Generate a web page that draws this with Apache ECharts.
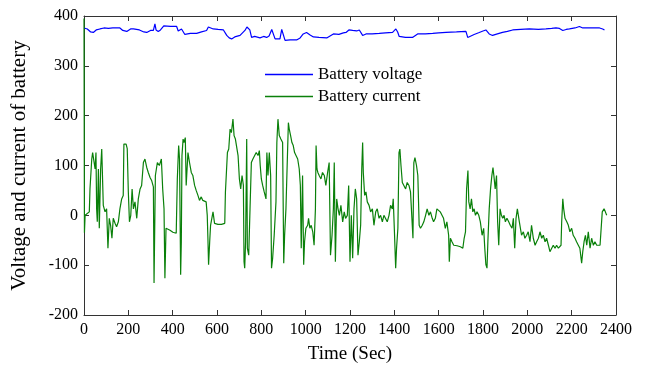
<!DOCTYPE html>
<html>
<head>
<meta charset="utf-8">
<script src="https://cdn.jsdelivr.net/npm/echarts@6/dist/echarts.min.js"></script>
<style>
  html, body { margin: 0; padding: 0; background: #fff; }
  #chart { width: 648px; height: 369px; }
</style>
</head>
<body>
<div id="chart"></div>
<script>
// x axis ticks (Sec) and y axis ticks
const timeTicks = [0, 200, 400, 600, 800, 1000, 1200, 1400, 1600, 1800, 2000, 2200, 2400]
const valueTicks = [-200, -100, 0, 100, 200, 300, 400]

// battery voltage samples [time, volts]
const voltageSamples = [
  [0, 376], [15, 374], [30, 368], [42, 367], [55, 372], [72, 374], [90, 376], [110, 375],
  [130, 376], [162, 376], [175, 371], [193, 369], [210, 374], [223, 374], [250, 372],
  [270, 368], [283, 367], [300, 371], [313, 371], [320, 384], [325, 372], [335, 369],
  [345, 372], [360, 380], [365, 381], [390, 379], [418, 379], [425, 370], [433, 367],
  [440, 374], [448, 374], [455, 363], [480, 365], [508, 365], [530, 368], [553, 371],
  [561, 378], [570, 375], [583, 374], [605, 373], [629, 372], [644, 361], [655, 356],
  [666, 354], [680, 358], [704, 361], [715, 366], [726, 371], [735, 378], [741, 375],
  [748, 372], [756, 357], [770, 359], [794, 356], [810, 359], [824, 357], [835, 360],
  [847, 373], [855, 370], [862, 354], [884, 354], [892, 373], [900, 370], [907, 351],
  [930, 352], [959, 352], [975, 356], [989, 364], [1004, 367], [1020, 362], [1035, 358],
  [1060, 357], [1095, 356], [1110, 360], [1125, 364], [1150, 363], [1170, 366],
  [1182, 367], [1195, 372], [1212, 371], [1230, 370], [1242, 372], [1257, 361],
  [1272, 364], [1300, 364], [1332, 365], [1360, 366], [1392, 367], [1407, 374],
  [1415, 368], [1422, 359], [1450, 357], [1482, 357], [1490, 354], [1505, 364],
  [1540, 364], [1573, 365], [1600, 366], [1633, 367], [1680, 368], [1723, 369],
  [1731, 357], [1760, 363], [1783, 367], [1800, 370], [1813, 372], [1828, 364],
  [1843, 361], [1865, 364], [1888, 367], [1910, 369], [1934, 372], [1970, 373],
  [2009, 374], [2050, 373], [2084, 374], [2110, 375], [2129, 376], [2145, 375],
  [2160, 371], [2175, 373], [2190, 374], [2215, 376], [2235, 379], [2250, 376],
  [2265, 376], [2300, 376], [2326, 376], [2340, 374], [2348, 372]
]

// battery current samples [time, amps]
const currentSamples = [
  [0, 395], [2, -35], [5, 0], [12, 3], [24, 7], [27, 53], [35, 113], [39, 126], [45, 130],
  [50, 93], [54, 126], [57, 13], [60, -13], [65, 93], [69, -26], [75, 93], [80, 133],
  [84, 134], [87, 20], [95, 7], [102, 13], [108, -66], [114, -6], [120, -20], [126, -46],
  [132, -6], [140, -16], [147, -23], [155, -13], [162, 13], [170, 33], [177, 40],
  [180, 143], [190, 143], [195, 134], [200, 47], [205, -13], [211, 0], [217, 53],
  [223, 13], [230, 27], [238, -6], [245, 33], [253, 53], [260, 60], [268, 106],
  [275, 113], [283, 96], [290, 86], [298, 76], [305, 70], [313, 57], [316, -136],
  [322, 80], [331, 106], [340, 100], [349, 113], [355, 53], [361, 13], [365, -126],
  [370, -26], [376, -23], [388, -30], [401, -34], [416, -36], [421, 73], [427, 140],
  [431, 113], [436, -119], [439, -53], [442, 120], [447, 153], [451, 146], [457, 156],
  [461, 60], [469, 126], [476, 106], [484, 86], [491, 80], [499, 60], [506, 50],
  [514, 40], [521, 30], [529, 37], [536, 30], [544, 33], [551, 27], [556, 0],
  [559, -46], [562, -99], [567, -53], [571, -20], [577, -20], [582, 7], [589, -16],
  [604, -18], [620, -18], [635, -16], [638, 47], [647, 126], [653, 133], [659, 173],
  [665, 166], [672, 193], [677, 160], [683, 153], [689, 150], [695, 120], [701, 73],
  [707, 53], [713, 80], [719, 60], [722, -93], [725, -106], [729, -53], [734, 153],
  [737, -66], [743, -80], [749, 13], [755, 106], [762, 113], [770, 120], [777, 126],
  [785, 120], [791, 130], [795, 100], [800, 73], [806, 60], [813, 47], [821, 33],
  [825, 126], [830, 80], [836, 126], [842, 80], [846, -106], [851, -86], [858, -40],
  [866, 27], [870, 146], [875, 193], [881, 160], [888, 153], [896, 146], [901, -96],
  [905, -40], [911, 13], [917, 13], [922, 186], [926, 173], [932, 160], [938, 146],
  [944, 140], [950, 126], [956, 130], [964, 113], [971, 93], [976, 60], [980, -66],
  [986, 80], [991, -99], [995, -53], [1001, -26], [1009, -20], [1013, -6], [1019, -26],
  [1025, -20], [1032, -33], [1038, -60], [1044, 13], [1047, 140], [1051, 93],
  [1055, 86], [1061, 80], [1069, 73], [1076, 86], [1084, 80], [1091, 60], [1099, 86],
  [1106, 106], [1112, -80], [1119, -40], [1125, 13], [1129, 106], [1134, -93],
  [1140, 33], [1146, 13], [1152, 0], [1159, 20], [1167, -13], [1174, 7], [1180, -6],
  [1188, 0], [1194, 60], [1200, -93], [1206, 0], [1212, -86], [1218, 13], [1224, 53],
  [1230, 33], [1236, -80], [1242, -53], [1248, -20], [1253, 93], [1257, 146],
  [1260, 86], [1266, 40], [1272, 47], [1278, 27], [1286, 20], [1293, 7], [1301, 13],
  [1308, -20], [1316, 7], [1323, 13], [1331, -6], [1338, 0], [1346, -13], [1353, 0],
  [1361, 0], [1368, -13], [1376, 0], [1383, 20], [1391, 13], [1395, 33], [1401, -40],
  [1406, -106], [1410, -66], [1416, -26], [1421, 126], [1425, 133], [1430, 100],
  [1436, 66], [1443, 66], [1451, 53], [1458, 66], [1466, 60], [1473, 47], [1479, 47],
  [1484, -46], [1488, 106], [1493, 116], [1500, 100], [1506, 80], [1512, -20],
  [1518, -26], [1526, -20], [1533, -13], [1541, 0], [1548, 13], [1556, 0], [1563, 7],
  [1571, -6], [1577, -13], [1585, -6], [1592, 13], [1600, 17], [1607, 7], [1615, 0],
  [1622, -6], [1630, -26], [1637, -13], [1645, -40], [1648, -93], [1653, -46],
  [1660, -53], [1668, -60], [1683, -61], [1698, -63], [1709, -66], [1715, -46],
  [1721, -33], [1726, 53], [1732, 90], [1736, 27], [1742, 13], [1748, 33], [1754, 7],
  [1760, 13], [1766, 0], [1773, 7], [1781, 0], [1788, -13], [1796, -40], [1803, -26],
  [1808, -66], [1813, -99], [1818, -106], [1822, -53], [1828, 13], [1834, 53],
  [1840, 80], [1845, 96], [1849, 80], [1855, 53], [1861, 80], [1866, -13], [1871, -60],
  [1877, 13], [1883, 0], [1889, -6], [1895, 0], [1901, -13], [1908, -6], [1916, -13],
  [1923, -20], [1931, -26], [1937, -6], [1943, -66], [1949, -6], [1955, 13],
  [1964, -13], [1974, -40], [1982, -33], [1989, -46], [1997, -40], [2004, -33],
  [2012, -53], [2019, -20], [2027, -46], [2035, -60], [2042, -53], [2050, -46],
  [2057, -33], [2065, -46], [2072, -40], [2080, -53], [2087, -46], [2095, -60],
  [2102, -73], [2110, -66], [2117, -60], [2125, -66], [2132, -60], [2140, -66],
  [2147, -63], [2152, -60], [2155, -13], [2160, 33], [2164, 13], [2170, -6],
  [2178, -13], [2185, -20], [2192, -33], [2200, -26], [2207, -40], [2215, -46],
  [2222, -53], [2230, -60], [2237, -66], [2245, -96], [2250, -73], [2256, -53],
  [2262, -40], [2268, -60], [2275, -33], [2283, -66], [2290, -46], [2298, -60],
  [2305, -53], [2313, -60], [2320, -56], [2328, -60], [2335, -60], [2338, 7],
  [2346, 13], [2352, 7], [2358, 0]
]

const chart = echarts.init(document.getElementById('chart'))

const font = 'Liberation Serif'
const axisColor = '#333'

function boxAxis(extra) {
  return Object.assign({
    type: 'value',
    axisLine: { show: true, onZero: false, lineStyle: { color: axisColor, width: 1 } },
    axisTick: { show: true, inside: true, length: 5, lineStyle: { color: axisColor } },
    splitLine: { show: false }
  }, extra)
}

const option = {
  animation: false,
  backgroundColor: '#fff',
  grid: { left: 84, right: 32, top: 16, bottom: 52 },
  legend: {
    orient: 'vertical',
    left: 260,
    top: 61,
    icon: 'rect',
    itemWidth: 48,
    itemHeight: 1.5,
    itemGap: 5,
    textStyle: { fontFamily: font, fontSize: 17, color: '#000' },
    data: ['Battery voltage', 'Battery current']
  },
  xAxis: [
    boxAxis({
      min: timeTicks[0],
      max: timeTicks[timeTicks.length - 1],
      interval: 200,
      name: 'Time (Sec)',
      nameLocation: 'middle',
      nameGap: 30,
      nameTextStyle: { fontFamily: font, fontSize: 19, color: '#000' },
      axisLabel: { fontFamily: font, fontSize: 16, color: '#000', margin: 7, formatter: v => String(v) }
    }),
    boxAxis({
      position: 'top',
      min: timeTicks[0],
      max: timeTicks[timeTicks.length - 1],
      interval: 200,
      axisLabel: { show: false }
    })
  ],
  yAxis: [
    boxAxis({
      min: valueTicks[0],
      max: valueTicks[valueTicks.length - 1],
      interval: 100,
      name: 'Voltage and current of battery',
      nameLocation: 'middle',
      nameGap: 54,
      nameTextStyle: { fontFamily: font, fontSize: 21, color: '#000' },
      axisLabel: { fontFamily: font, fontSize: 16, color: '#000', margin: 6 }
    }),
    boxAxis({
      position: 'right',
      min: valueTicks[0],
      max: valueTicks[valueTicks.length - 1],
      interval: 100,
      axisLabel: { show: false }
    })
  ],
  series: [
    {
      name: 'Battery voltage',
      type: 'line',
      symbol: 'none',
      data: voltageSamples,
      lineStyle: { color: '#0000ff', width: 1.2 },
      itemStyle: { color: '#0000ff' }
    },
    {
      name: 'Battery current',
      type: 'line',
      symbol: 'none',
      data: currentSamples,
      lineStyle: { color: '#0a800a', width: 1.2 },
      itemStyle: { color: '#0a800a' }
    }
  ]
}

chart.setOption(option)
</script>
</body>
</html>
